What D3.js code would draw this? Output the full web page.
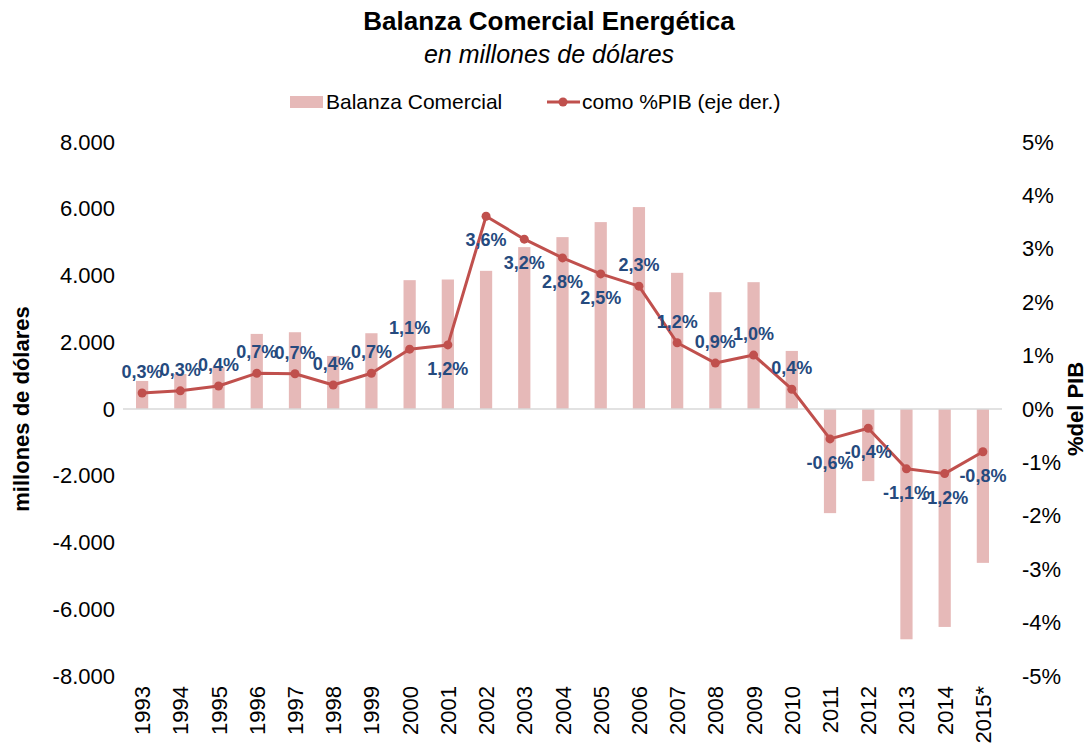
<!DOCTYPE html>
<html>
<head>
<meta charset="utf-8">
<script src="https://cdn.jsdelivr.net/npm/d3@7"></script>
<style>
  body { margin: 0; background: #fff; }
  svg { font-family: "Liberation Sans", Arial, sans-serif; }
</style>
</head>
<body>
<svg id="chart" width="1090" height="753"></svg>
<script>
const years = ["1993","1994","1995","1996","1997","1998","1999","2000","2001","2002","2003","2004",
    "2005","2006","2007","2008","2009","2010","2011","2012","2013","2014","2015*"];
const balanza = [840, 1050, 1250, 2250, 2300, 1590, 2270, 3860, 3880, 4140, 4850, 5150,
    5600, 6050, 4080, 3500, 3800, 1740, -3120, -2160, -6900, -6530, -4610];
const pctPib = [0.30, 0.34, 0.43, 0.67, 0.66, 0.45, 0.67, 1.12, 1.20, 3.61, 3.18, 2.83,
    2.53, 2.30, 1.24, 0.86, 1.01, 0.37, -0.56, -0.36, -1.12, -1.21, -0.80];
const pctLabels = ["0,3%","0,3%","0,4%","0,7%","0,7%","0,4%","0,7%","1,1%","1,2%","3,6%","3,2%","2,8%",
    "2,5%","2,3%","1,2%","0,9%","1,0%","0,4%","-0,6%","-0,4%","-1,1%","-1,2%","-0,8%"];
// where excel put each data label (a = above, b = below)
const labelPos = ["a","a","a","a","a","a","a","a","b","b","b","b",
    "b","a","a","a","a","a","b","b","b","b","b"];
const leftTicks = [-8000, -6000, -4000, -2000, 0, 2000, 4000, 6000, 8000];
const rightTicks = [-5, -4, -3, -2, -1, 0, 1, 2, 3, 4, 5];

const barColor = "#e6b9b8";
const lineColor = "#c0504d";
const labelColor = "#254a7e";

const svg = d3.select("#chart");

const x = d3.scaleBand()
    .domain(years)
    .range([123, 1002])
    .paddingInner(0.68)
    .paddingOuter(0.34);
const yL = d3.scaleLinear().domain([-8000, 8000]).range([676, 142]);
const yR = d3.scaleLinear().domain([-5, 5]).range([676, 142]);
const cx = d => x(d) + x.bandwidth() / 2;

const thousands = d3.format(",");
const fmtLeft = d => (d < 0 ? "-" : "") + thousands(Math.abs(d)).replace(/,/g, ".");
const fmtRight = d => (d < 0 ? "-" : "") + Math.abs(d) + "%";

// titles
svg.append("text")
    .attr("x", 549).attr("y", 30)
    .attr("text-anchor", "middle")
    .style("font-size", "26px").style("font-weight", "bold")
    .text("Balanza Comercial Energética");
svg.append("text")
    .attr("x", 549).attr("y", 63)
    .attr("text-anchor", "middle")
    .style("font-size", "25px").style("font-style", "italic")
    .text("en millones de dólares");

// legend
const leg = svg.append("g");
leg.append("rect").attr("x", 290).attr("y", 96).attr("width", 33).attr("height", 12).attr("fill", barColor);
leg.append("text").attr("x", 326).attr("y", 109).style("font-size", "21px").text("Balanza Comercial");
leg.append("line").attr("x1", 547).attr("x2", 580).attr("y1", 102).attr("y2", 102)
    .attr("stroke", lineColor).attr("stroke-width", 3);
leg.append("circle").attr("cx", 563).attr("cy", 102).attr("r", 4.5).attr("fill", lineColor);
leg.append("text").attr("x", 582).attr("y", 109).style("font-size", "21px").text("como %PIB (eje der.)");

// left axis
const axL = svg.append("g")
    .attr("transform", "translate(115,0)")
    .call(d3.axisLeft(yL).tickValues(leftTicks).tickSize(0).tickPadding(0).tickFormat(fmtLeft));
axL.select(".domain").remove();
axL.selectAll("text").style("font-size", "22px").style("font-family", "Liberation Sans, Arial, sans-serif")
    .attr("fill", "#000");

// right axis
const axR = svg.append("g")
    .attr("transform", "translate(1022,0)")
    .call(d3.axisRight(yR).tickValues(rightTicks).tickSize(0).tickPadding(0).tickFormat(fmtRight));
axR.select(".domain").remove();
axR.selectAll("text").style("font-size", "22px").style("font-family", "Liberation Sans, Arial, sans-serif")
    .attr("fill", "#000");

// axis titles
svg.append("text")
    .attr("transform", "translate(29,409) rotate(-90)")
    .attr("text-anchor", "middle")
    .style("font-size", "22px").style("font-weight", "bold")
    .text("millones de dólares");
svg.append("text")
    .attr("transform", "translate(1083,409) rotate(-90)")
    .attr("text-anchor", "middle")
    .style("font-size", "22px").style("font-weight", "bold")
    .text("%del PIB");

// bars
svg.append("g")
    .selectAll("rect")
    .data(years)
    .join("rect")
    .attr("x", d => x(d))
    .attr("width", x.bandwidth())
    .attr("y", (d, i) => Math.min(yL(balanza[i]), yL(0)))
    .attr("height", (d, i) => Math.abs(yL(balanza[i]) - yL(0)))
    .attr("fill", barColor);

// zero line
svg.append("line")
    .attr("x1", x.range()[0]).attr("x2", x.range()[1])
    .attr("y1", yL(0)).attr("y2", yL(0))
    .attr("stroke", "#d9d9d9").attr("stroke-width", 1.5);

// x labels
svg.append("g")
    .selectAll("text")
    .data(years)
    .join("text")
    .attr("transform", d => `translate(${cx(d) + 8},686) rotate(-90)`)
    .attr("text-anchor", "end")
    .style("font-size", "22px")
    .text(d => d);

// pct line
const line = d3.line()
    .x((d, i) => cx(years[i]))
    .y(d => yR(d));
svg.append("path")
    .datum(pctPib)
    .attr("d", line)
    .attr("fill", "none")
    .attr("stroke", lineColor)
    .attr("stroke-width", 3)
    .attr("stroke-linejoin", "round");
svg.append("g")
    .selectAll("circle")
    .data(pctPib)
    .join("circle")
    .attr("cx", (d, i) => cx(years[i]))
    .attr("cy", d => yR(d))
    .attr("r", 4.5)
    .attr("fill", lineColor);

// data labels
svg.append("g")
    .selectAll("text")
    .data(pctPib)
    .join("text")
    .attr("x", (d, i) => cx(years[i]))
    .attr("y", (d, i) => yR(d) + (labelPos[i] === "a" ? -15 : 30))
    .attr("text-anchor", "middle")
    .style("font-size", "18px").style("font-weight", "bold")
    .attr("fill", labelColor)
    .text((d, i) => pctLabels[i]);
</script>
</body>
</html>
